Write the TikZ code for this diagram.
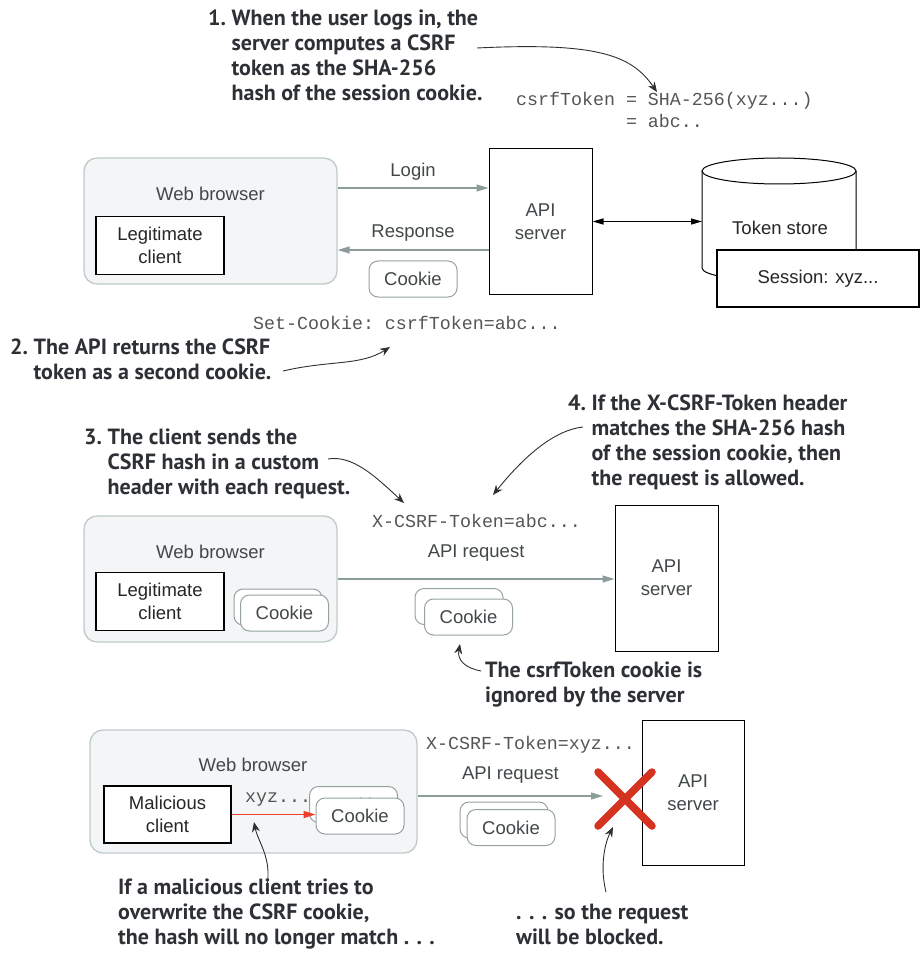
\documentclass[tikz,border=0pt]{standalone}
\usepackage{fontspec}
\setmainfont{Liberation Sans}
\setmonofont{Liberation Mono}
\newfontfamily\notefont{PT Sans}
\usetikzlibrary{arrows.meta}
\definecolor{notegray}{RGB}{45,48,52}
\definecolor{wiregray}{RGB}{140,156,155}
\definecolor{browfill}{RGB}{243,245,246}
\definecolor{browline}{RGB}{192,202,202}
\definecolor{cookline}{RGB}{150,162,162}
\definecolor{txtgray}{RGB}{66,72,74}
\definecolor{codegray}{RGB}{85,85,85}
\definecolor{attackred}{RGB}{240,64,42}
\definecolor{crossred}{RGB}{213,50,31}
\newcommand{\notesize}{\notefont\bfseries\fontsize{22}{25}\selectfont}
\newcommand{\lblsize}{\fontsize{18.5}{23}\selectfont}

\begin{document}
\begin{tikzpicture}[x=1pt, y=-1pt,
  lbl/.style={inner sep=0, align=center, text=txtgray, font=\lblsize},
  code/.style={inner sep=0, anchor=west, align=left, text=codegray, font=\ttfamily\fontsize{18.3}{22}\selectfont},
  note/.style={inner sep=0, anchor=base west, text=notegray, font=\notesize},
  browser/.style={draw=browline, fill=browfill, line width=1.3pt, rounded corners=13pt},
  client/.style={draw, line width=1.2pt, fill=white, minimum width=128pt, minimum height=58pt,
                 align=center, inner sep=0, text=black!85, font=\lblsize},
  server/.style={client, line width=1pt, minimum width=103pt, minimum height=146pt, text=txtgray},
  cookie/.style={draw=cookline, fill=white, line width=1pt, rounded corners=9pt, minimum width=88pt,
                 minimum height=36pt, inner sep=0, text=txtgray, font=\lblsize},
  wire/.style={draw=wiregray, line width=1.4pt, -{Triangle[length=12pt,width=7pt]}},
  callout/.style={draw=notegray, line width=0.9pt, -{Stealth[length=10pt,width=8pt]}}]
  \useasboundingbox (0,0) rectangle (920,973);

  \node[note] (note1) at (208,25.5) {\begin{tabular}[t]{@{}l@{\ }l@{}}1. & When the user logs in, the\\
    & server computes a CSRF\\ & token as the SHA-256\\ & hash of the session cookie.\end{tabular}};
  \node[code, anchor=north west] (hash) at (516,92) {csrfToken = SHA-256(xyz...)\\\hphantom{csrfToken }= abc..};

  \node[browser, minimum width=253pt, minimum height=126pt] (br1) at (210.5,221) {};
  \node[lbl] (web1) at (210.5,194) {Web browser};
  \node[client] (legit1) at (160,245.5) {Legitimate\\client};
  \node[server] (srv1) at (540.5,221.5) {API\\server};
  \draw[wire] ([yshift=33]br1.east) -- ([yshift=33]br1.east -| srv1.west)
    node[lbl, midway, yshift=16] {Login};
  \draw[wire] ([yshift=-29]br1.east -| srv1.west) -- ([yshift=-29]br1.east)
    node[lbl, midway, yshift=17] {Response};
  \node[cookie] (ck1) at (413,279) {Cookie};

  \draw[line width=1pt, fill=white] (702,171) -- (702,268)
    arc[start angle=180, end angle=360, x radius=77pt, y radius=13pt] -- (856,171);
  \draw[line width=1pt, fill=white] (779,171) ellipse [x radius=77pt, y radius=13pt];
  \node[lbl, text=black!85] (store) at (780,228) {Token store};
  \coordinate (storeW) at (702,221.5);
  \node[client, minimum width=202pt, minimum height=57pt] (sess) at (818,278.5) {Session: xyz...};
  \draw[line width=1.2pt, {Triangle[length=11pt,width=6pt]}-{Triangle[length=11pt,width=6pt]}]
    (srv1.east) -- (storeW);

  \node[code] (setck) at (253,323) {Set-Cookie: csrfToken=abc...};
  \node[note] (note2) at (10,354) {\begin{tabular}[t]{@{}l@{\ }l@{}}2. & The API returns the CSRF\\
    & token as a second cookie.\end{tabular}};
  \node[note] (note3) at (84,444) {\begin{tabular}[t]{@{}l@{\ }l@{}}3. & The client sends the\\
    & CSRF hash in a custom\\ & header with each request.\end{tabular}};
  \node[note] (note4) at (568,410.5) {\begin{tabular}[t]{@{}l@{\ }l@{}}4. & If the X-CSRF-Token header\\
    & matches the SHA-256 hash\\ & of the session cookie, then\\ & the request is allowed.\end{tabular}};

  \node[code] (hdr2) at (372,521) {X-CSRF-Token=abc...};
  \node[browser, minimum width=253pt, minimum height=126pt] (br2) at (210.5,579) {};
  \node[lbl] (web2) at (210.5,552) {Web browser};
  \node[client] (legit2) at (160,601.5) {Legitimate\\client};
  \node[cookie] (ck2a) at (278,607) {};
  \node[cookie] (ck2b) at (284.5,613) {Cookie};
  \node[server] (srv2) at (666.5,578) {API\\server};
  \draw[wire] (br2.east) -- (br2.east -| srv2.west) node[lbl, midway, yshift=26] {API request};
  \node[cookie] (ck3a) at (459,606.5) {};
  \node[cookie] (ck3b) at (468.5,617) {Cookie};
  \node[note] (note5) at (485,677.5) {\begin{tabular}[t]{@{}l@{}}The csrfToken cookie is\\
    ignored by the server\end{tabular}};

  \node[code] (hdr3) at (426,745) {X-CSRF-Token=xyz...};
  \node[browser, minimum width=327pt, minimum height=123pt] (br3) at (253.5,791.5) {};
  \node[lbl] (web3) at (253,765) {Web browser};
  \node[client, minimum width=127pt, minimum height=57pt] (mal) at (167.5,814.5) {Malicious\\client};
  \node[code] (fake) at (245,800) {xyz...};
  \node[cookie] (ck4a) at (353.5,804.5) {Cookie};
  \node[cookie] (ck4b) at (360,816) {Cookie};
  \draw[draw=attackred, line width=1.3pt, -{Triangle[length=12pt,width=7pt]}, attackred]
    (mal.east) -- (mal.east -| ck4b.west);
  \node[server, minimum width=102pt, minimum height=145pt] (srv3) at (693,792.5) {API\\server};
  \coordinate (stop) at (603,796);
  \draw[wire] ([yshift=-4.5]br3.east) -- (stop) node[lbl, midway, yshift=21] {API request};
  \node[cookie] (ck5a) at (504,820) {};
  \node[cookie] (ck5b) at (511,827.5) {Cookie};
  \coordinate (block) at (625,799);
  \draw[crossred, line width=7.5pt, line cap=round]
    ([shift={(-27,-27)}]block) -- ([shift={(27,27)}]block)
    ([shift={(27,-27)}]block) -- ([shift={(-27,27)}]block);
  \node[note] (note6) at (118,894.5) {\begin{tabular}[t]{@{}l@{}}If a malicious client tries to\\
    overwrite the CSRF cookie,\\ the hash will no longer match . . .\end{tabular}};
  \node[note] (note7) at (516,919.5) {\begin{tabular}[t]{@{}l@{}}. . . so the request\\
    will be blocked.\end{tabular}};

  \coordinate (c1a) at (477,48);   \coordinate (c1b) at (657,92);
  \coordinate (c2a) at (283,371);  \coordinate (c2b) at (390,347);
  \coordinate (c3a) at (328,459);  \coordinate (c3b) at (404,503);
  \coordinate (c4a) at (583,427);  \coordinate (c4b) at (493,495);
  \coordinate (c5a) at (481,671);  \coordinate (c5b) at (460,644);
  \coordinate (c6a) at (267,886);  \coordinate (c6b) at (254,822);
  \coordinate (c7a) at (606,892);  \coordinate (c7b) at (613,827);
  \draw[callout] (c1a) .. controls (600,42) and (632,56) .. (c1b);
  \draw[callout] (c2a) .. controls (330,360) and (360,366) .. (c2b);
  \draw[callout] (c3a) .. controls (352,455) and (374,475) .. (c3b);
  \draw[callout] (c4a) .. controls (555,430) and (525,455) .. (c4b);
  \draw[callout] (c5a) .. controls (465,668) and (457,660) .. (c5b);
  \draw[callout] (c6a) .. controls (272,858) and (258,842) .. (c6b);
  \draw[callout] (c7a) .. controls (600,868) and (604,845) .. (c7b);
\end{tikzpicture}
\end{document}
